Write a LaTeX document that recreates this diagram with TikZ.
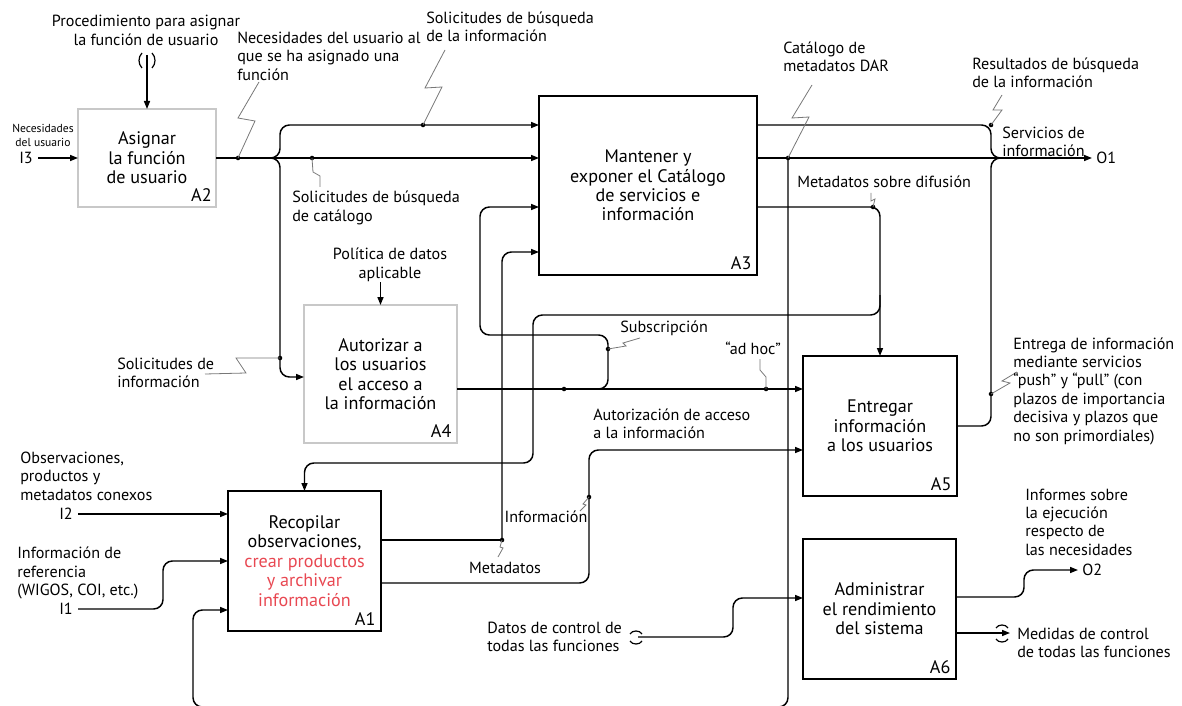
\documentclass[tikz,border=0pt]{standalone}
\usepackage{fontspec}
\setmainfont{PT Sans}
\usetikzlibrary{arrows.meta}
\definecolor{boxgray}{RGB}{200,200,200}
\definecolor{zapgray}{RGB}{120,120,120}
\definecolor{redtxt}{RGB}{232,72,82}
\begin{document}
\begin{tikzpicture}[x=0.75pt, y=-0.75pt,
  font=\fontsize{12.1}{13.8}\selectfont,
  box/.style={draw, line width=2.2pt, outer sep=0pt, inner sep=0pt, align=center, font=\fontsize{13.6}{14.6}\selectfont},
  gbox/.style={box, draw=boxgray},
  alab/.style={anchor=south east, inner sep=0pt, font=\fontsize{13.6}{14.6}\selectfont},
  lbl/.style={align=left, inner sep=0pt, anchor=west},
  clbl/.style={align=center, inner sep=0pt},
  flow/.style={line width=1.1pt, rounded corners=7pt},
  arr/.style={-{Triangle[length=6pt,width=4.5pt]}},
  zap/.style={draw=zapgray, line width=0.6pt},
  dot/.style={circle, fill, inner sep=0pt, minimum size=3.4pt},
  tun/.style={line width=0.9pt}]
\useasboundingbox (0,0) rectangle (1182,706);

% ---------- boxes ----------
\node[gbox, minimum width=103.5pt, minimum height=73.5pt] (a2) at (147,158) {Asignar\\la función\\de usuario};
\node[box, minimum width=163.5pt, minimum height=134.25pt] (a3) at (648,185.5) {Mantener y\\exponer el Catálogo\\de servicios e\\información};
\node[gbox, minimum width=114.75pt, minimum height=103.5pt] (a4) at (380.5,374) {Autorizar a\\los usuarios\\el acceso a\\la información};
\node[box, minimum width=114.75pt, minimum height=105pt] (a1) at (304.5,561) {Recopilar\\observaciones,\\\textcolor{redtxt}{crear productos}\\\textcolor{redtxt}{y archivar}\\\textcolor{redtxt}{información}};
\node[box, minimum width=115.5pt, minimum height=105pt] (a5) at (880,426) {Entregar\\información\\a los usuarios};
\node[box, minimum width=114.75pt, minimum height=105pt] (a6) at (879.5,609) {Administrar\\el rendimiento\\del sistema};

\node[alab] (la2) at ([xshift=-3pt,yshift=4pt]a2.south east) {A2};
\node[alab] (la3) at ([xshift=-4pt,yshift=4pt]a3.south east) {A3};
\node[alab] (la4) at ([xshift=-4pt,yshift=4pt]a4.south east) {A4};
\node[alab] (la1) at ([xshift=-4pt,yshift=4pt]a1.south east) {A1};
\node[alab] (la5) at ([xshift=-4pt,yshift=4pt]a5.south east) {A5};
\node[alab] (la6) at ([xshift=-4pt,yshift=4pt]a6.south east) {A6};

% ---------- junction points ----------
\coordinate (br) at (265,158);
\coordinate (c2) at (147,55);
\coordinate (i3) at (38,158);
\coordinate (c4) at (380.5,282);
\coordinate (i2) at (78,514);
\coordinate (i1) at (78,609);
\coordinate (dc) at (638,637);
\coordinate (o1) at (1092,158);
\coordinate (o2) at (1078,570);
\coordinate (mc) at (1010,633);

% ---------- connectors ----------
\draw[flow, arr] (a2.east) -- (a2.east -| a3.west);
\draw[flow, arr] (br) -| (280,125) -- (a3.west |- 0,125);
\draw[flow, arr] (br) -| (280,377) -- (a4.west |- 0,377);
\draw[flow, arr] (c2) -- (a2.north);
\draw[flow, arr] (i3) -- (a2.west);

\draw[flow] (a3.east |- 0,125) -| (991,158) -- (1010,158);
\draw[flow, arr] (a3.east |- 0,158) -- (o1);
\draw[flow, arr] (a3.east |- 0,207) -| (a5.north);
\draw[flow, arr] (880,295) |- (533,315) |- (a1.north |- 0,463) -- (a1.north);
\draw[flow] (a5.east) -| (991,158) -- (1010,158);
\draw[flow, arr] (788,158) |- (193,707) |- (a1.west |- 0,610);

\draw[flow, arr] (c4) -- (a4.north);
\draw[flow, arr] (a4.east |- 0,389) -- (a5.west |- 0,389);
\draw[flow, arr] (590,389) -| (608,335) -| (480,207) -- (a3.west |- 0,207);

\draw[flow] (a1.east |- 0,540) -- (502,540);
\draw[flow, arr] (502,540) |- (a3.west |- 0,252);
\draw[flow, arr] (a1.east |- 0,583) -| (589,450) -- (a5.west |- 0,450);

\draw[flow, arr] (i2) -- (a1.west |- i2);
\draw[flow, arr] (i1) -| (163,561) -- (a1.west |- 0,561);

\draw[flow, arr] (dc) -| (733,598) -- (a6.west |- 0,598);
\draw[flow, arr] (a6.east |- 0,597) -| (1024,570) -- (o2);
\draw[flow, arr] (a6.east |- 0,633) -- (mc);

% ---------- dots ----------
\node[dot] (d1) at (238,158) {};
\node[dot] (d2) at (312,158) {};
\node[dot] (d3) at (423,125) {};
\node[dot] (d4) at (280,358) {};
\node[dot] (d5) at (788,158) {};
\node[dot] (d6) at (991,125) {};
\node[dot] (d7) at (873,207) {};
\node[dot] (d8) at (608,349) {};
\node[dot] (d9) at (564,389) {};
\node[dot] (d10) at (766,389) {};
\node[dot] (d11) at (991,394) {};
\node[dot] (d12) at (502,540) {};
\node[dot] (d13) at (589,497) {};

% ---------- lightning (squiggles) ----------
\draw[zap] (259,82) -- (238,118) -- (255,121) -- (d1.center);
\draw[zap] (445,50) -- (425,88) -- (442,87) -- (d3.center);
\draw[zap] (d2.center) -- (313,172) -- (320,176) -- (320,187);
\draw[zap] (812,85) -- (792,118) -- (809,117) -- (d5.center);
\draw[zap] (1002,95) -- (993,110) -- (1002,110) -- (d6.center);
\draw[zap] (871,193) -- (871,201) -- (875,199) -- (d7.center);
\draw[zap] (d8.center) -- (626,346) -- (623,343) -- (640,338);
\draw[zap] (d10.center) -- (766,377) -- (760,370) -- (760,359);
\draw[zap] (d11.center) -- (1010,383) -- (1002,381) -- (1017,372);
\draw[zap] (d13.center) -- (583,504) -- (586,505) -- (580,511);
\draw[zap] (d12.center) -- (500,547) -- (503,548) -- (498,557);
\draw[zap] (205,374) -- (246,373) -- (236,358) -- (d4.center);

% ---------- tunnels ----------
\draw[tun] (142,53) .. controls (138,57) and (138,64) .. (142,68);
\draw[tun] (152,53) .. controls (156,57) and (156,64) .. (152,68);
\draw[tun] (630,634) .. controls (632,630) and (640,630) .. (642,634);
\draw[tun] (630,641) .. controls (632,645) and (640,645) .. (642,641);
\draw[tun] (996,628) .. controls (998,624) and (1006,624) .. (1008,628);
\draw[tun] (996,639) .. controls (998,643) and (1006,643) .. (1008,639);

% ---------- labels ----------
\node[clbl] (t1) at (146,30.5) {Procedimiento para asignar\\la función de usuario};
\node[clbl, font=\fontsize{8.7}{10.5}\selectfont] (t2) at (43,135) {Necesidades\\del usuario};
\node[clbl] (t3) at (26,158) {I3};
\node[lbl] (t4) at (237,56) {Necesidades del usuario al\\que se ha asignado una\\función};
\node[lbl] (t5) at (426,27) {Solicitudes de búsqueda\\de la información};
\node[lbl] (t6) at (292,208) {Solicitudes de búsqueda\\de catálogo};
\node[lbl] (t7) at (783,57) {Catálogo de\\metadatos DAR};
\node[lbl] (t8) at (972,73) {Resultados de búsqueda\\de la información};
\node[lbl] (t9) at (1002,142) {Servicios de\\información};
\node[lbl] (t10) at (1096,158) {O1};
\node[lbl] (t11) at (797,182) {Metadatos sobre difusión};
\node[clbl] (t12) at (390,265) {Política de datos\\aplicable};
\node[lbl] (t13) at (117,373) {Solicitudes de\\información};
\node[lbl] (t14) at (620,328) {Subscripción};
\node[clbl] (t15) at (753,348) {“ad hoc”};
\node[lbl] (t16) at (593,424) {Autorización de acceso\\a la información};
\node[lbl] (t17) at (1013,391) {Entrega de información\\mediante servicios\\“push” y “pull” (con\\plazos de importancia\\decisiva y plazos que\\no son primordiales)};
\node[lbl] (t18) at (1025,522) {Informes sobre\\la ejecución\\respecto de\\las necesidades};
\node[lbl] (t19) at (1082,570) {O2};
\node[lbl] (t20) at (1017,643) {Medidas de control\\de todas las funciones};
\node[lbl] (t21) at (487,637) {Datos de control de\\todas las funciones};
\node[clbl] (t22) at (546,517) {Información};
\node[clbl] (t23) at (505,568) {Metadatos};
\node[lbl] (t24) at (20,476) {Observaciones,\\productos y\\metadatos conexos};
\node[clbl] (t25) at (66,514) {I2};
\node[lbl] (t26) at (17,573) {Información de\\referencia\\(WIGOS, COI, etc.)};
\node[clbl] (t27) at (66,609) {I1};
\end{tikzpicture}
\end{document}
